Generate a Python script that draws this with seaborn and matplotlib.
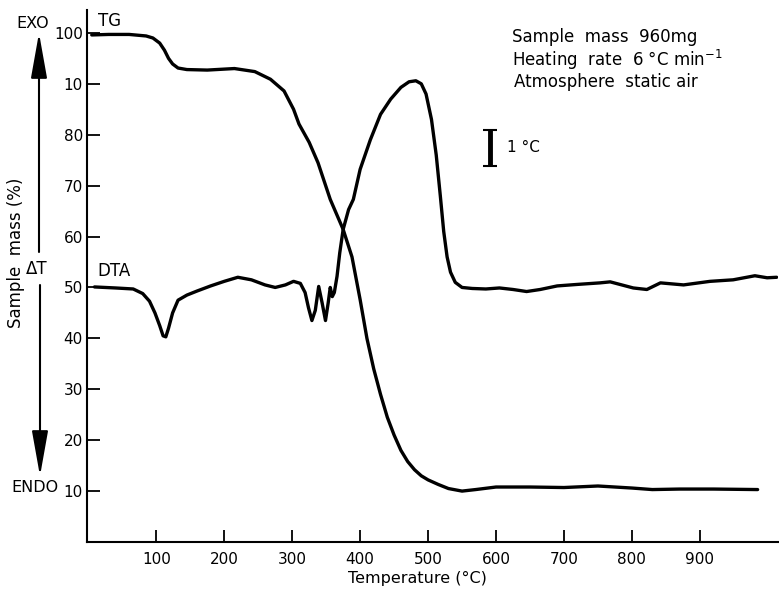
import matplotlib
matplotlib.use("Agg")
import matplotlib.pyplot as plt
import seaborn as sns

# TG curve: temperature (deg C) vs sample mass (%)
tg_temp = [5, 30, 60, 85, 95, 105, 112, 118, 124, 132, 145, 175, 215, 245, 268,
           288, 302, 310, 325, 338, 356, 375, 388, 400, 410, 420, 430, 440, 450,
           460, 470, 480, 490, 500, 515, 530, 550, 570, 600, 650, 700, 750, 800,
           830, 870, 920, 985]
tg_mass = [99.6, 99.7, 99.7, 99.4, 99.0, 98.0, 96.6, 95.0, 93.9, 93.1, 92.8, 92.7,
           93.0, 92.4, 90.9, 88.6, 85.0, 82.1, 78.5, 74.5, 67.3, 61.4, 56.0, 47.6,
           40.0, 34.0, 29.0, 24.5, 21.0, 18.0, 15.8, 14.2, 13.0, 12.2, 11.3, 10.5,
           10.0, 10.3, 10.8, 10.8, 10.7, 11.0, 10.6, 10.3, 10.4, 10.4, 10.3]

# DTA curve, drawn on the same vertical scale
dta_temp = [9, 40, 66, 80, 90, 98, 105, 110, 114, 118, 124, 132, 145, 160, 180,
            200, 220, 240, 260, 275, 290, 302, 312, 319, 324, 329, 334, 339, 344,
            349, 353, 356, 359, 362, 366, 370, 375, 383, 390, 400, 415, 430, 445,
            460, 472, 482, 490, 497, 505, 512, 518, 523, 528, 533, 540, 550, 565,
            585, 605, 625, 645, 665, 690, 720, 753, 768, 785, 802, 822, 842, 876,
            915, 949, 981, 999, 1013]
dta_dt = [50.1, 49.9, 49.7, 48.8, 47.3, 45.0, 42.5, 40.5, 40.3, 42.0, 45.0, 47.5,
          48.5, 49.3, 50.3, 51.2, 52.0, 51.5, 50.5, 50.0, 50.5, 51.2, 50.8, 49.0,
          46.0, 43.5, 45.5, 50.2, 47.0, 43.5, 47.0, 50.0, 48.2, 49.0, 52.2, 56.8,
          61.4, 65.3, 67.3, 73.2, 79.0, 84.0, 87.0, 89.3, 90.4, 90.6, 90.0, 88.0,
          83.0, 76.0, 68.0, 61.0, 56.0, 53.0, 51.0, 50.0, 49.8, 49.7, 49.9, 49.6,
          49.2, 49.6, 50.3, 50.6, 50.9, 51.1, 50.5, 49.9, 49.6, 50.9, 50.5,
          51.2, 51.5, 52.3, 51.9, 52.0]

x_ticks = [100, 200, 300, 400, 500, 600, 700, 800, 900]
y_ticks = [10, 20, 30, 40, 50, 60, 70, 80, 90, 100]
y_tick_labels = ["10", "20", "30", "40", "50", "60", "70", "80", "10", "100"]

sns.set_style("ticks")
plt.rcParams["font.family"] = ["DejaVu Sans"]
plt.rcParams["text.color"] = "black"
plt.rcParams["axes.labelcolor"] = "black"

W, H = 779, 589
fig = plt.figure(figsize=(W / 100, H / 100), dpi=100)
ax = fig.add_axes([87 / W, 1 - 542 / H, (778 - 87) / W, (542 - 10) / H])

sns.lineplot(x=tg_temp, y=tg_mass, ax=ax, color="black", lw=2.4)
sns.lineplot(x=dta_temp, y=dta_dt, ax=ax, color="black", lw=2.4)

ax.set_xlim(-2, 1015)
ax.set_ylim(0, 104.5)
ax.set_xticks(x_ticks)
ax.set_yticks(y_ticks)
ax.set_yticklabels(y_tick_labels)
ax.tick_params(direction="in", length=9, width=1.3, labelsize=11,
               colors="black", labelcolor="black")
ax.tick_params(axis="x", pad=7)
ax.tick_params(axis="y", pad=3)
for s in ["top", "right"]:
    ax.spines[s].set_visible(False)
for s in ["left", "bottom"]:
    ax.spines[s].set_linewidth(1.5)
    ax.spines[s].set_color("black")

ax.set_xlabel("Temperature (°C)", fontsize=11.5, color="black")
ax.xaxis.set_label_coords(0.478, -0.054)
ax.set_ylabel("")

# curve labels
fig.text(98 / W, 1 - 21 / H, "TG", fontsize=12, va="center")
fig.text(97 / W, 1 - 271 / H, "DTA", fontsize=12, va="center")

# side annotations
fig.text(16 / W, 1 - 253 / H, "Sample  mass (%)", fontsize=12, rotation=90,
         ha="center", va="center")
fig.text(33 / W, 1 - 23 / H, "EXO", fontsize=11.5, ha="center", va="center")
fig.text(35 / W, 1 - 487 / H, "ENDO", fontsize=11.5, ha="center", va="center")
fig.text(37 / W, 1 - 269 / H, "ΔT", fontsize=12, ha="center", va="center")

arrow = dict(arrowstyle="-|>,head_length=1.4,head_width=0.25", lw=1.5,
             color="black", mutation_scale=20, shrinkA=0, shrinkB=0)
ax.annotate("", xy=(39 / W, 1 - 33 / H), xytext=(39 / W, 1 - 252 / H),
            xycoords="figure fraction", textcoords="figure fraction",
            arrowprops=arrow)
ax.annotate("", xy=(40 / W, 1 - 476 / H), xytext=(40 / W, 1 - 285 / H),
            xycoords="figure fraction", textcoords="figure fraction",
            arrowprops=arrow)

# experiment conditions
fig.text(512 / W, 1 - 37 / H, "Sample  mass  960mg", fontsize=12, va="center")
fig.text(512 / W, 1 - 60 / H, r"Heating  rate  6 °C min$^{-1}$", fontsize=12,
         va="center")
fig.text(514 / W, 1 - 82 / H, "Atmosphere  static air", fontsize=12, va="center")

# 1 deg C scale bar
ax.errorbar([591], [77.35], yerr=[3.55], color="black", elinewidth=3.5,
            capsize=5, capthick=1.5)
ax.text(616, 77.5, "1 °C", fontsize=11, va="center")

fig.savefig("out.png", dpi=100)
